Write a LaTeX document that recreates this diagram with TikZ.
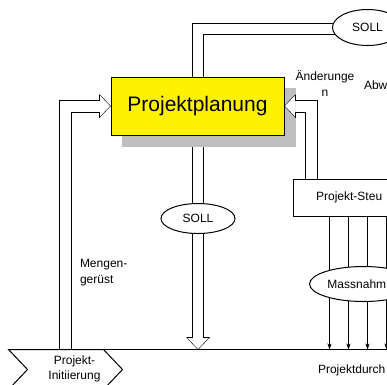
\documentclass[tikz,border=0pt]{standalone}
\usepackage{fontspec}
\setmainfont{Liberation Sans}
\usetikzlibrary{arrows.meta,shapes.geometric,calc}
\pgfdeclarelayer{back}
\pgfdeclarelayer{shade}
\pgfsetlayers{back,shade,main}
\begin{document}
\begin{tikzpicture}[x=1pt,y=-1pt,line width=1pt,
  lbl/.style={font=\fontsize{12}{16}\selectfont,inner sep=0pt},
  oval/.style={ellipse,draw,fill=white,inner sep=0pt,font=\fontsize{12}{16}\selectfont},
  shaft/.style={draw=black},
  smallarrow/.style={-{Stealth[length=6pt,width=4pt]}},
  box/.style={draw,anchor=north west,inner sep=0pt}
]
\useasboundingbox (0,0) rectangle (387,384);
\clip (0,0) rectangle (387,384);
\begin{scope}[shift={(0.5,0.5)}]
% main nodes
\node[box,fill=yellow,minimum width=173pt,minimum height=58pt,
      font=\fontsize{21}{24}\selectfont] (plan) at (110,76) {Projektplanung};
\node[oval,minimum width=70pt,minimum height=36pt] (sollA) at (367,27) {SOLL};
\node[oval,minimum width=74pt,minimum height=30pt] (sollB) at (197.5,218) {SOLL};
\node[box,fill=white,minimum width=143pt,minimum height=37pt,
      font=\fontsize{12}{16}\selectfont] (steu) at (292,178) {Projekt-Steu\phantom{erung}};
\node[oval,minimum width=108pt,minimum height=35pt] (mass) at (363,283.5) {Massnahm\phantom{en}};

% labels
\node[lbl,align=center] (aend) at (324.5,83) {Änderunge\\n};
\node[lbl,anchor=base west] (abw) at (363,89) {Abw};
\node[lbl,align=left,anchor=west] (menge) at (79,272) {Mengen-\\gerüst};
\node[lbl,anchor=base west] (durch) at (317,373) {Projektdurch};

% baseline and start chevron
\coordinate (lineL) at (8,349);
\coordinate (lineR) at (400,349);
\draw (lineL) -- (lineR);
\draw[fill=white] (lineL) -- (103,349) -- (122,369) -- (103,389) -- (8,389) -- (27,369) -- cycle;
\node[lbl,align=center,font=\fontsize{12}{15}\selectfont] (init) at (74,368) {Projekt-\\Initiierung};

\begin{pgfonlayer}{back}
  % feedback from Projektplanung up to SOLL
  \draw (plan.north -| 192,0) |- ($(sollA.center)+(0,-4)$);
  \draw (plan.north -| 203,0) |- ($(sollA.center)+(0,7)$);
  \draw[line width=1.8pt] (216,34) -- (235,34);
  % SOLL down arrow
  \draw[shaft] (192,134) -- (192,337) -- (186,337);
  \draw[shaft] (203,134) -- (203,337) -- (209,337);
  \draw[shaft] (186,337) -- (197.5,349) -- (209,337);
  % measures arrows
  \foreach \x in {329,348,367,386,405}
    \draw[smallarrow] (\x,215) -- (\x,349);
\end{pgfonlayer}

\begin{pgfonlayer}{shade}
  \fill[black!25] (121,87.5) rectangle (295,146);
  \fill[white] (295,94) -- (plan.east |- 0,105.5) -- (295,117) -- cycle;
\end{pgfonlayer}

% input arrow from Mengengeruest
\draw[shaft] (59,349) -- (59,99.5) -- (99,99.5) -- (99,94);
\draw[shaft] (71,349) -- (71,111.5) -- (99,111.5) -- (99,117);
\draw[shaft] (99,94) -- (plan.west |- 0,105.5) -- (99,117);
% Aenderungen arrow
\draw[shaft] (317,178) -- (317,99.5) -- (295,99.5) -- (295,94);
\draw[shaft] (305,178) -- (305,111.5) -- (295,111.5) -- (295,117);
\draw[shaft] (295,94) -- (plan.east |- 0,105.5) -- (295,117);
\end{scope}
\end{tikzpicture}
\end{document}
